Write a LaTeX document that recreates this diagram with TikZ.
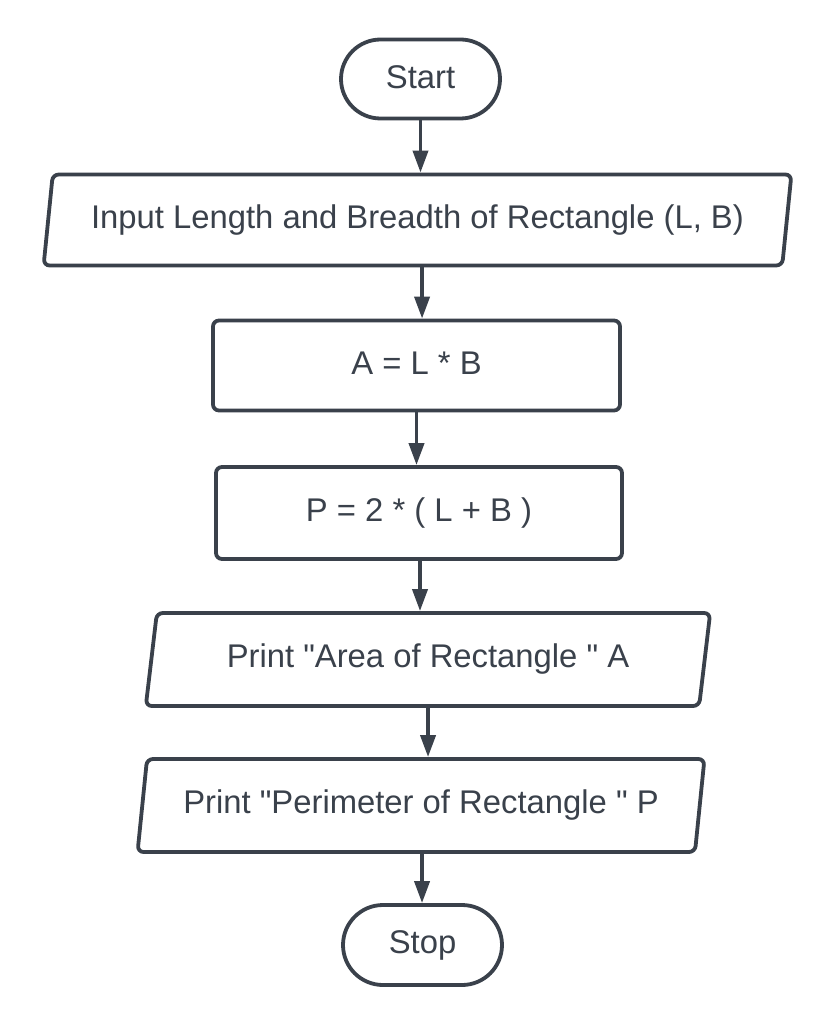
\documentclass[tikz,border=0pt]{standalone}
\usepackage{fontspec}
\setmainfont{Liberation Sans}[Ligatures=TeXOff]
\usetikzlibrary{shapes.geometric,shapes.misc,arrows.meta,calc}
\definecolor{ink}{HTML}{3A414B}
\tikzset{
  x=1pt,y=-1pt,
  base/.style={draw=ink,line width=3.8pt,text=ink,font=\fontsize{32.8}{38}\selectfont,inner sep=0pt,
    execute at begin node={\raise4pt\hbox\bgroup}, execute at end node={\egroup}},
  term/.style={base,rounded rectangle,minimum width=159pt,minimum height=79pt},
  proc/.style={base,rectangle,rounded corners=6pt,minimum height=90pt},
  io/.style={base,trapezium,trapezium left angle=75,trapezium right angle=105,trapezium stretches=true,rounded corners=6pt,minimum height=91pt},
  arr/.style={draw=ink,line width=3.8pt,-{Triangle[length=22pt,width=15pt]}}
}
\begin{document}
\begin{tikzpicture}
\useasboundingbox (0,0) rectangle (835,1024);
\fill[white] (0,0) rectangle (835,1024);
\node[term] (start) at (420.5,79) {Start};
\node[io,minimum width=755pt] (input) at (417.5,220) {Input Length and Breadth of Rectangle (L, B)};
\node[proc,minimum width=407pt] (calcA) at (416.5,365.5) {A = L * B};
\node[proc,minimum width=406pt,minimum height=92pt] (calcP) at (419,513) {P = 2 * ( L + B )};
\node[io,minimum width=566pt,minimum height=93pt] (printA) at (428,659.5) {Print "Area of Rectangle " A};
\node[io,minimum width=568pt,minimum height=93pt] (printP) at (421,805.5) {Print "Perimeter of Rectangle " P};
\node[term,minimum height=80pt] (stop) at (422.5,945) {Stop};

\draw[arr] (start.south) -- (start.south |- input.north);
\draw[arr] ([xshift=4.5pt]input.south) -- ([xshift=4.5pt]input.south |- calcA.north);
\draw[arr] (calcA.south) -- (calcA.south |- calcP.north);
\draw[arr] ([xshift=1pt]calcP.south) -- ([xshift=1pt]calcP.south |- printA.north);
\draw[arr] (printA.south) -- (printA.south |- printP.north);
\draw[arr] ([xshift=1pt]printP.south) -- ([xshift=1pt]printP.south |- stop.north);
\end{tikzpicture}
\end{document}
